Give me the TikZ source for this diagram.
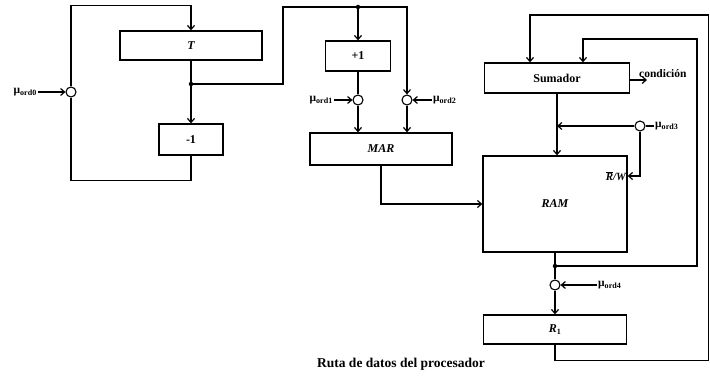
\documentclass[tikz,border=0pt]{standalone}
\usepackage{fontspec}
\setmainfont{Liberation Serif}
\usetikzlibrary{arrows.meta,positioning,calc}

\begin{document}
\begin{tikzpicture}[
    x=1pt, y=-1pt,
    reg/.style={rectangle, draw, line width=1.3pt, inner sep=0pt, font=\fontsize{12}{14}\selectfont\bfseries\itshape},
    regup/.style={reg, font=\fontsize{12}{14}\selectfont\bfseries},
    gate/.style={circle, draw, line width=1.1pt, fill=white, inner sep=0pt, minimum size=10pt},
    junc/.style={circle, fill, inner sep=0pt, minimum size=4.5pt},
    ctrl/.style={font=\fontsize{11.5}{13}\selectfont\bfseries, inner sep=1pt},
    arrow/.style={-{Straight Barb[length=4pt,width=7pt]}, line width=1.2pt},
    wire/.style={line width=1.2pt}
]
    \useasboundingbox (0,0) rectangle (710,385);

    % left part: T and -1
    \node[reg, minimum width=142pt, minimum height=29pt] (T) at (191,45.5) {T};
    \node[regup, minimum width=64pt, minimum height=31pt] (dec) at (191,139.5) {-1};
    \node[gate] (g0) at (71,92) {};
    \node[junc] (j1) at (191,84) {};
    \node[ctrl, anchor=east] (l0) at (38,92) {μ\textsubscript{ord0}};

    \draw[wire] (T) -- (j1);
    \draw[arrow] (j1) -- (dec);
    \draw[wire] (dec) -- ++(0,41) -| (g0);
    \draw[arrow] (g0) |- ([yshift=25pt]T.north) -- (T.north);
    \draw[arrow] (l0) -- (g0);

    % +1 and MAR
    \node[regup, minimum width=65pt, minimum height=30pt] (inc) at (358,56) {+1};
    \node[reg, minimum width=142pt, minimum height=32pt] (MAR) at (381,149) {MAR};
    \node[junc] (j2) at (358,7) {};
    \node[gate] (g1) at (358,100) {};
    \node[gate] (g2) at (407,100) {};
    \node[ctrl, anchor=east] (l1) at (334,100) {μ\textsubscript{ord1}};
    \node[ctrl, anchor=west] (l2) at (432,100) {μ\textsubscript{ord2}};

    \draw[wire] (j1) -- (283,84) |- (j2);
    \draw[arrow] (j2) -- (inc);
    \draw[arrow] (j2) -| (g2);
    \draw[wire] (inc) -- (g1);
    \draw[arrow] (g1) -- (g1 |- MAR.north);
    \draw[arrow] (g2) -- (g2 |- MAR.north);
    \draw[arrow] (l1) -- (g1);
    \draw[arrow] (l2) -- (g2);

    % Sumador, RAM, R1
    \node[regup, minimum width=145pt, minimum height=30pt] (sum) at (557,78) {Sumador};
    \node[reg, minimum width=144pt, minimum height=96pt] (RAM) at (555,204) {RAM};
    \node[reg, minimum width=143pt, minimum height=29pt] (R1) at (555,329.5) {R\textsubscript{\upshape 1}};
    \node[gate] (g3) at (640,126) {};
    \node[gate] (g4) at (555,285) {};
    \node[junc] (j3) at (555,266) {};
    \node[ctrl, anchor=west] (l3) at (654,126) {μ\textsubscript{ord3}};
    \node[ctrl, anchor=west] (l4) at (597,285) {μ\textsubscript{ord4}};
    \coordinate (rw) at (RAM.east |- 0,176);
    \node[anchor=east, font=\fontsize{11}{13}\selectfont\bfseries\itshape, inner sep=1.5pt] (rwlab) at (rw) {$\overline{\hbox{R}}$/W};
    \coordinate (condend) at (647,80);
    \node[anchor=south west, font=\fontsize{11.5}{13}\selectfont\bfseries, inner sep=1pt] (cond) at (638,79) {condición};

    \draw[arrow] (MAR) |- (RAM);
    \draw[arrow] (sum) -- (sum |- RAM.north);
    \draw[arrow] (g3) -- (g3 -| sum);
    \draw[wire] (l3) -- (g3);
    \draw[arrow] (g3) |- (rw);
    \draw[arrow] (sum.east |- condend) -- (condend);
    \draw[wire] (RAM) -- (j3);
    \draw[wire] (j3) -- (g4);
    \draw[arrow] (g4) -- (R1);
    \draw[arrow] (l4) -- (g4);
    \draw[arrow] (j3) -| (697,39) -| ([xshift=26pt]sum.north);
    \draw[arrow] (R1.south) -- ++(0,16) -| (708.5,15) -| ([xshift=-27pt]sum.north);

    \node[font=\fontsize{13.5}{16}\selectfont\bfseries] (caption) at (401,364) {Ruta de datos del procesador};
\end{tikzpicture}
\end{document}
